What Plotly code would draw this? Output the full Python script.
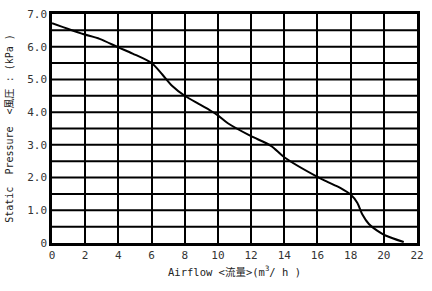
import plotly.graph_objects as go

airflow = [0, 1.87, 2.87, 4.0, 4.86, 6.0, 6.65, 7.25, 8.0, 8.84, 9.54, 10.0, 10.6, 11.94, 13.2, 14.0, 16.0, 16.6, 17.4, 18.0, 18.4, 18.7, 19.1, 19.6, 20.1, 21.2]
pressure = [6.72, 6.39, 6.24, 5.98, 5.79, 5.5, 5.15, 4.8, 4.5, 4.25, 4.05, 3.9, 3.66, 3.28, 2.97, 2.62, 2.02, 1.87, 1.68, 1.48, 1.23, 0.88, 0.58, 0.38, 0.23, 0.03]

x_ticks = list(range(0, 23, 2))
x_labels = [str(v) for v in x_ticks]
y_ticks = [0, 1, 2, 3, 4, 5, 6, 7]
y_labels = ["0", "1.0", "2.0", "3.0", "4.0", "5.0", "6.0", "7.0"]

fig = go.Figure()
fig.add_trace(go.Scatter(x=airflow, y=pressure, mode="lines",
                         line=dict(color="black", width=2, shape="spline", smoothing=0.8),
                         showlegend=False, hoverinfo="skip"))

tickfont = dict(family="DejaVu Sans Mono", size=11, color="#333")
titlefont = dict(family="DejaVu Sans Mono, Noto Sans CJK JP", size=10.5, color="#222")
nb = "\u00a0"
fig.update_layout(
    width=432, height=291,
    margin=dict(l=52, r=12, t=8, b=48),
    paper_bgcolor="white", plot_bgcolor="white",
    xaxis=dict(range=[0, 22], tickvals=x_ticks, ticktext=x_labels, showgrid=True,
               gridcolor="black", gridwidth=2, zeroline=False, showline=True,
               linecolor="black", linewidth=2.5, mirror=True, ticks="", ticklen=0,
               tickfont=tickfont,
               title=dict(text="Airflow" + nb + "<流量>(m<sup>3</sup>/" + nb + "h" + nb + ")", standoff=8,
                          font=titlefont)),
    yaxis=dict(range=[0, 7], tickvals=y_ticks, ticktext=y_labels, showgrid=False,
               zeroline=False, showline=True, linecolor="black", linewidth=2.5, mirror=True,
               ticks="", tickfont=tickfont,
               title=dict(text="Static" + nb * 2 + "Pressure" + nb * 2 + "<風圧" + nb + ":" + nb + "(kPa" + nb + ")",
                          standoff=12, font=dict(family="DejaVu Sans Mono, Noto Sans CJK JP", size=10, color="#222"))),
)
for i in range(1, 14):
    fig.add_shape(type="line", xref="paper", x0=0, x1=1, yref="y", y0=i * 0.5, y1=i * 0.5,
                  line=dict(color="black", width=2), layer="below")

fig.write_html("out.html")
